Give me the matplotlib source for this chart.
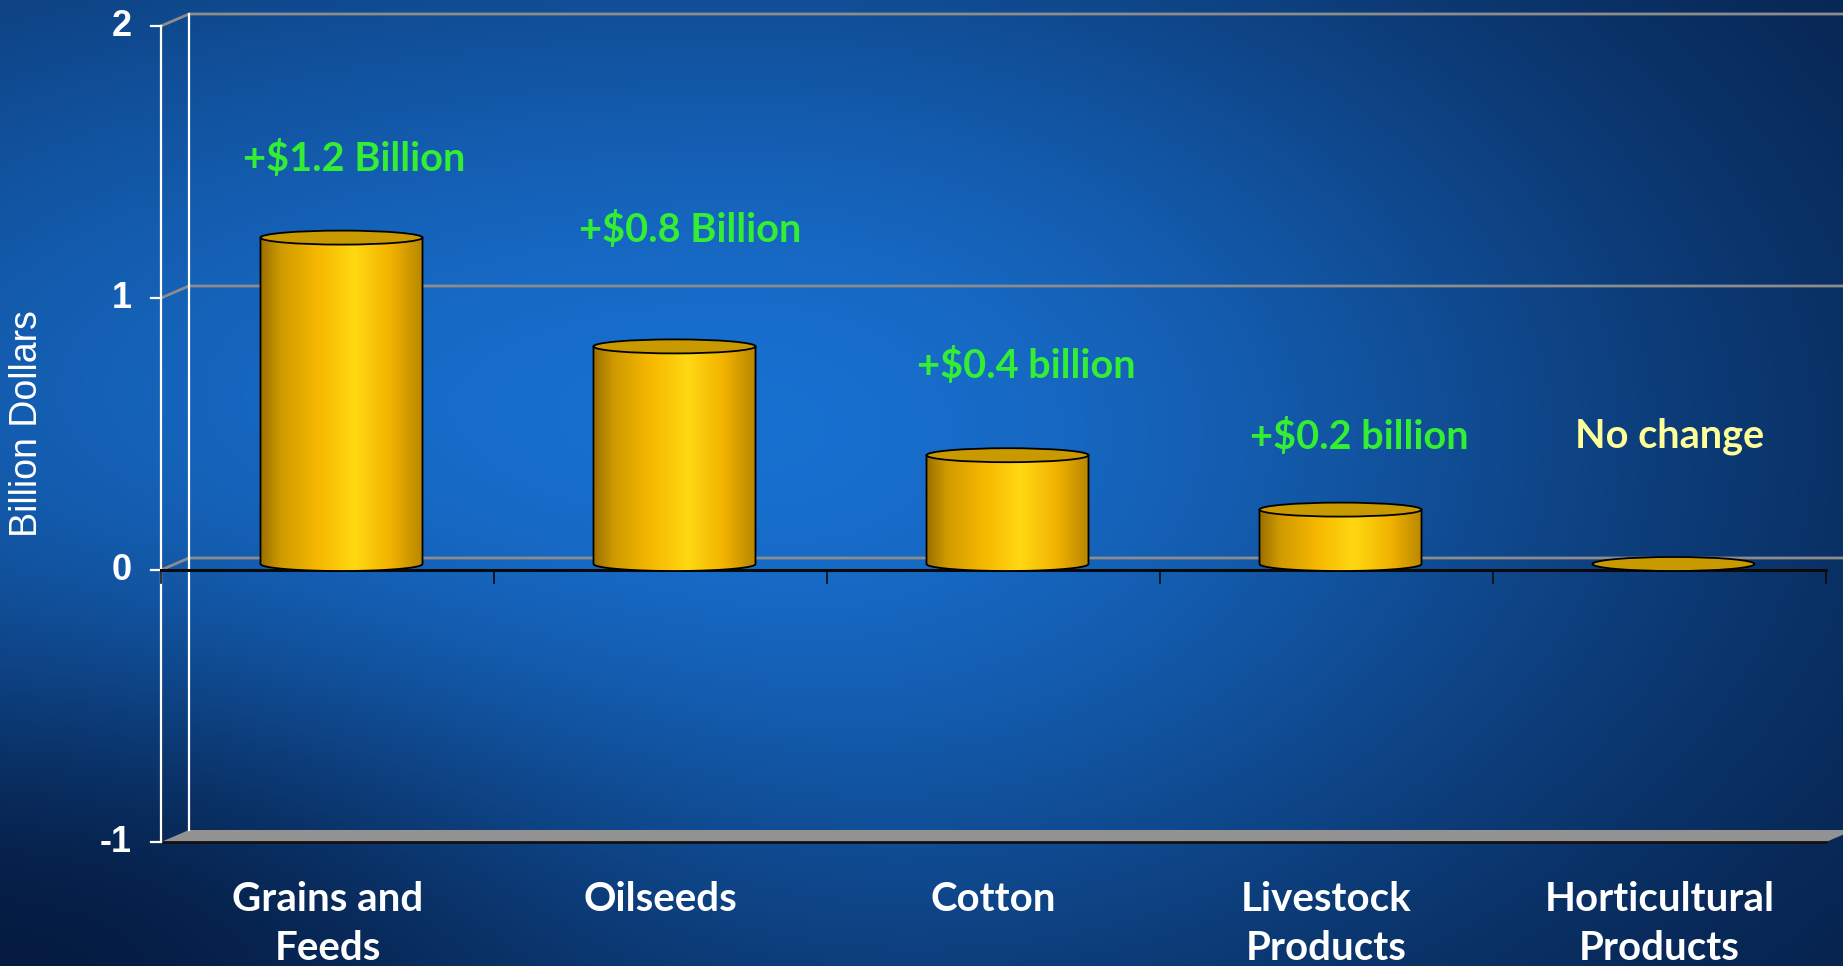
import numpy as np
import matplotlib.pyplot as plt
from matplotlib.patches import Polygon, Ellipse, PathPatch
from matplotlib.path import Path
from matplotlib.colors import LinearSegmentedColormap, to_rgb

# change in value by commodity group (billion dollars)
categories = ["Grains and\nFeeds", "Oilseeds", "Cotton", "Livestock\nProducts", "Horticultural\nProducts"]
changes = [1.2, 0.8, 0.4, 0.2, 0.0]
value_labels = ["+$1.2 Billion", "+$0.8 Billion", "+$0.4 billion", "+$0.2 billion", "No change"]
label_colors = ["#33ee33", "#33ee33", "#33ee33", "#33ee33", "#ffff99"]
y_ticks = [-1, 0, 1, 2]

# where the annotation text sits relative to each bar
label_dx = [0.08, 0.09, 0.10, 0.10, 0.03]
label_dy = [0.31, 0.45, 0.35, 0.29, 0.49]

W, H = 1843, 966
fig = plt.figure(figsize=(W / 100, H / 100), dpi=100)

# blue slide background
bg = fig.add_axes([0, 0, 1, 1])
yy, xx = np.mgrid[0:H, 0:W]
u = xx / W
v = yy / H
sx = np.where(u < 0.4, 0.85, 0.55)
glow = np.exp(-(((u - 0.4) / sx) ** 2 + ((v - 0.45) / 0.65) ** 2))
corner = np.exp(-((u / 0.3) ** 2 + ((1 - v) / 0.3) ** 2))
t = glow * (1 - 0.85 * corner)
dark = np.array(to_rgb("#041638"))
bright = np.array(to_rgb("#1870d0"))
img = dark + (bright - dark) * t[..., None]
bg.imshow(img, extent=[0, 1, 0, 1], aspect="auto", origin="upper")
bg.axis("off")

# chart axes: one category per unit in x, values in y
ax = fig.add_axes([0, 0, 1, 1])
ax.set_facecolor("none")
px_x, px_y = 333.0, 272.0
x0 = -161 / px_x
y0 = -1 - (H - 842) / px_y
ax.set_xlim(x0, x0 + W / px_x)
ax.set_ylim(y0, y0 + H / px_y)
ax.axis("off")

n = len(categories)
DX, DY = 28 / px_x, 12 / px_y
ymin, ymax = y_ticks[0], y_ticks[-1]

# floor
floor = Polygon([(0, ymin), (n, ymin), (n + DX, ymin + DY), (DX, ymin + DY)],
                closed=True, facecolor="#929292", edgecolor="none", zorder=1)
ax.add_patch(floor)
ax.plot([0, n], [ymin, ymin], color="#111111", lw=2, zorder=2)

# back wall gridlines
for tv in y_ticks[1:]:
    ax.plot([0, DX, n + DX], [tv, tv + DY, tv + DY], color="#8c8c8c", lw=2, zorder=1)

# wall edges and y axis
ax.plot([DX, DX], [ymin + DY, ymax + DY], color="white", lw=1.6, zorder=2)
ax.plot([0, 0], [ymin, ymax], color="white", lw=1.6, zorder=2)
for tv in y_ticks:
    ax.plot([-10 / px_x, 0], [tv, tv], color="white", lw=1.6, zorder=2)
    ax.text(-29 / px_x, tv, str(tv), ha="right", va="center", color="white",
            fontsize=26, fontweight="bold", family="Liberation Sans")

ax.text(-134 / px_x, 0.54, "Billion Dollars", rotation=90, ha="center", va="center",
        color="white", fontsize=27, family="Liberation Sans")

# zero line with category ticks
ax.plot([0, n], [0, 0], color="#0a0a0a", lw=2.2, zorder=2)
for i in range(n + 1):
    ax.plot([i, i], [0, -13 / px_y], color="#0a0a0a", lw=1.2, zorder=2)

# cylinders
gold = LinearSegmentedColormap.from_list("gold", [
    (0.0, "#9c7000"), (0.12, "#cf9a00"), (0.35, "#f6b800"),
    (0.58, "#ffd812"), (0.8, "#f2b300"), (1.0, "#b88600")])
grad = np.linspace(0, 1, 256)[None, :]
half_w = 81 / px_x
half_h = 7 / px_y
for i, val in enumerate(changes):
    xc = i + 0.5 + DX / 2
    base = DY / 2
    top = val + DY / 2
    if val > 0:
        th = np.linspace(np.pi, 2 * np.pi, 60)
        arc = np.column_stack([xc + half_w * np.cos(th), base + half_h * np.sin(th)])
        verts = np.vstack([[xc - half_w, top], arc, [xc + half_w, top], [xc - half_w, top]])
        body = Path(verts, closed=True)
        clip = PathPatch(body, transform=ax.transData, facecolor="none", edgecolor="none")
        ax.add_patch(clip)
        im = ax.imshow(grad, cmap=gold, extent=[xc - half_w, xc + half_w, base - half_h, top],
                       aspect="auto", zorder=3)
        im.set_clip_path(clip)
        ax.add_patch(PathPatch(body, facecolor="none", edgecolor="black", lw=1.3, zorder=4))
    ax.add_patch(Ellipse((xc, top), 2 * half_w, 2 * half_h, facecolor="#c99a00",
                         edgecolor="black", lw=1.3, zorder=5))

    ax.text(i + 0.5 + label_dx[i], val + label_dy[i], value_labels[i], ha="center", va="center",
            color=label_colors[i], fontsize=28.5, fontweight="bold", family="Lato")
    ax.text(i + 0.5, -1.145, categories[i], ha="center", va="top", color="white",
            fontsize=29, fontweight="bold", family="Lato", linespacing=1.4)

fig.savefig("out.png", dpi=100)
